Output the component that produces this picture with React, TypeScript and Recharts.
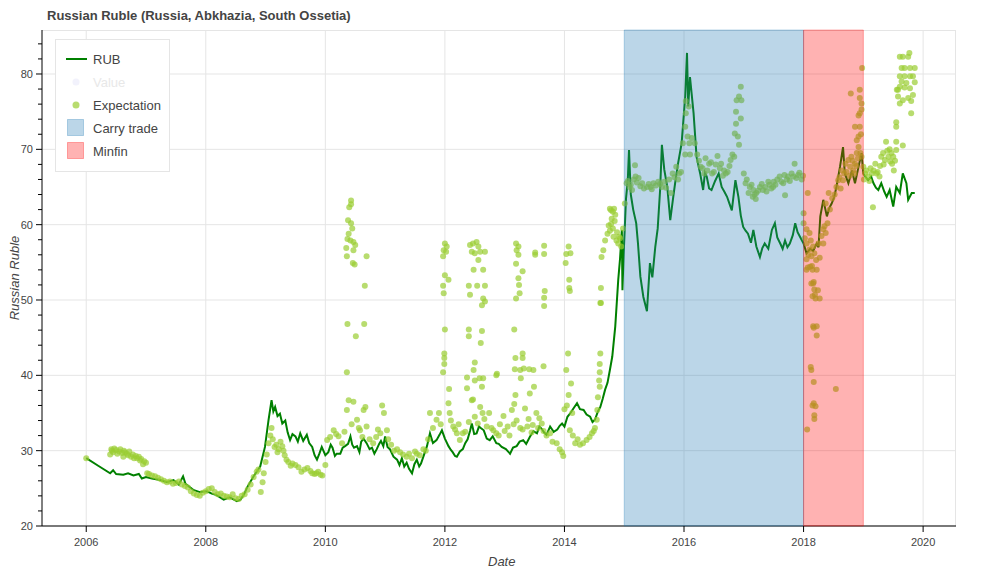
import React from "react";
import {
  ComposedChart,
  CartesianGrid,
  Line,
  ReferenceArea,
  Scatter,
  XAxis,
  YAxis
} from "recharts";

// decimal year, rate
const rubSeries: [number, number][] = [
  [2006.0, 29.0], [2006.2, 28.0], [2006.4, 27.0], [2006.45, 27.4], [2006.5, 26.9], [2006.62, 26.8],
  [2006.7, 27.0], [2006.79, 26.7], [2006.88, 26.9], [2006.93, 26.3], [2007.0, 26.5], [2007.1, 26.3],
  [2007.24, 26.1], [2007.35, 25.8], [2007.46, 26.1], [2007.55, 25.5], [2007.62, 26.6], [2007.66, 25.6],
  [2007.79, 24.8], [2007.9, 24.5], [2008.02, 24.6], [2008.1, 24.3], [2008.18, 24.1], [2008.3, 23.5],
  [2008.4, 23.8], [2008.52, 23.3], [2008.58, 23.5], [2008.64, 24.2], [2008.69, 25.1], [2008.8, 26.6],
  [2008.91, 27.9], [2008.99, 30.5], [2009.05, 34.1], [2009.1, 36.7], [2009.13, 35.2], [2009.16, 35.8],
  [2009.2, 34.6], [2009.24, 34.9], [2009.28, 33.6], [2009.33, 34.0], [2009.37, 32.4], [2009.41, 31.4],
  [2009.45, 32.2], [2009.5, 31.9], [2009.54, 31.2], [2009.58, 32.3], [2009.63, 31.3], [2009.69, 32.1],
  [2009.73, 31.0], [2009.78, 30.5], [2009.82, 29.4], [2009.86, 28.8], [2009.9, 29.6], [2009.94, 30.5],
  [2010.0, 29.4], [2010.05, 29.8], [2010.09, 30.8], [2010.12, 30.4], [2010.16, 29.3], [2010.19, 29.6],
  [2010.25, 29.6], [2010.29, 30.4], [2010.33, 30.6], [2010.38, 30.9], [2010.42, 31.9], [2010.45, 30.8],
  [2010.48, 30.4], [2010.53, 30.6], [2010.57, 29.8], [2010.6, 31.2], [2010.64, 31.6], [2010.69, 31.0],
  [2010.74, 30.2], [2010.78, 30.4], [2010.82, 29.6], [2010.86, 30.2], [2010.9, 30.9], [2010.93, 31.3],
  [2010.97, 30.6], [2011.0, 31.9], [2011.04, 30.5], [2011.08, 30.2], [2011.14, 29.2], [2011.2, 28.8],
  [2011.24, 28.1], [2011.28, 29.0], [2011.32, 27.9], [2011.36, 28.4], [2011.4, 27.6], [2011.45, 27.0],
  [2011.49, 28.2], [2011.53, 28.8], [2011.57, 27.9], [2011.6, 28.3], [2011.64, 29.2], [2011.7, 30.6],
  [2011.75, 32.3], [2011.8, 31.0], [2011.86, 31.4], [2011.91, 32.1], [2011.95, 32.7], [2012.0, 31.6],
  [2012.06, 30.6], [2012.1, 30.1], [2012.13, 29.8], [2012.17, 29.3], [2012.2, 29.2], [2012.25, 29.9],
  [2012.3, 30.2], [2012.34, 31.0], [2012.38, 31.5], [2012.42, 32.6], [2012.45, 33.6], [2012.49, 32.2],
  [2012.53, 32.3], [2012.57, 33.2], [2012.6, 33.0], [2012.65, 32.7], [2012.7, 31.6], [2012.75, 31.4],
  [2012.8, 31.9], [2012.86, 31.0], [2012.9, 30.9], [2012.95, 30.5], [2013.02, 30.2], [2013.09, 29.6],
  [2013.14, 30.4], [2013.2, 30.6], [2013.25, 31.2], [2013.31, 31.4], [2013.36, 30.9], [2013.42, 31.8],
  [2013.48, 32.6], [2013.54, 32.3], [2013.58, 33.2], [2013.62, 32.9], [2013.66, 32.4], [2013.7, 32.1],
  [2013.76, 33.2], [2013.82, 32.5], [2013.88, 32.8], [2013.92, 33.3], [2013.96, 33.6], [2014.0, 33.2],
  [2014.05, 34.5], [2014.1, 35.0], [2014.15, 35.6], [2014.21, 36.3], [2014.26, 35.5], [2014.32, 35.4],
  [2014.37, 34.8], [2014.43, 34.5], [2014.47, 33.8], [2014.51, 34.1], [2014.56, 35.2], [2014.6, 35.8],
  [2014.64, 36.9], [2014.68, 38.1], [2014.72, 39.0], [2014.76, 40.7], [2014.8, 42.5], [2014.85, 46.5],
  [2014.9, 52.7], [2014.93, 55.5], [2014.96, 59.3], [2014.97, 51.3], [2014.99, 56.0], [2015.03, 63.5],
  [2015.06, 66.0], [2015.08, 69.9], [2015.11, 64.0], [2015.15, 62.0], [2015.2, 60.2], [2015.23, 57.5],
  [2015.27, 53.1], [2015.32, 50.4], [2015.38, 48.5], [2015.43, 54.9], [2015.47, 53.0], [2015.52, 57.1],
  [2015.56, 59.5], [2015.6, 64.6], [2015.63, 70.6], [2015.67, 67.3], [2015.72, 65.0], [2015.77, 60.6],
  [2015.82, 63.7], [2015.86, 66.0], [2015.9, 68.1], [2015.96, 70.8], [2016.02, 77.0], [2016.05, 82.8],
  [2016.07, 75.7], [2016.1, 79.6], [2016.16, 74.8], [2016.21, 69.0], [2016.27, 66.8], [2016.32, 64.6],
  [2016.35, 66.9], [2016.38, 66.4], [2016.42, 64.8], [2016.46, 64.6], [2016.52, 65.8], [2016.58, 66.8],
  [2016.63, 65.0], [2016.68, 64.3], [2016.72, 63.7], [2016.76, 62.8], [2016.8, 61.9], [2016.86, 65.9],
  [2016.91, 63.7], [2016.95, 61.2], [2016.99, 59.7], [2017.03, 59.2], [2017.07, 58.8], [2017.12, 57.6],
  [2017.16, 59.3], [2017.21, 57.1], [2017.27, 55.7], [2017.31, 56.9], [2017.35, 57.5], [2017.41, 56.8],
  [2017.47, 59.3], [2017.52, 60.2], [2017.56, 58.3], [2017.61, 57.5], [2017.65, 56.8], [2017.69, 57.9],
  [2017.73, 57.0], [2017.77, 57.5], [2017.82, 58.6], [2017.86, 60.2], [2017.9, 59.0], [2017.94, 58.4],
  [2018.0, 57.5], [2018.05, 56.2], [2018.11, 56.8], [2018.16, 56.5], [2018.22, 57.5], [2018.25, 57.0],
  [2018.28, 61.1], [2018.33, 63.3], [2018.39, 61.1], [2018.43, 62.2], [2018.47, 62.8], [2018.51, 63.6],
  [2018.55, 65.0], [2018.61, 67.7], [2018.66, 70.3], [2018.69, 66.8], [2018.75, 65.5], [2018.81, 67.2],
  [2018.86, 65.5], [2018.92, 67.7], [2018.97, 69.5], [2019.0, 66.8], [2019.04, 66.3], [2019.08, 65.9],
  [2019.13, 66.4], [2019.17, 65.5], [2019.21, 64.9], [2019.25, 64.6], [2019.3, 65.5], [2019.35, 64.4],
  [2019.39, 63.7], [2019.44, 64.6], [2019.5, 62.4], [2019.55, 65.0], [2019.61, 64.2], [2019.66, 66.8],
  [2019.72, 65.5], [2019.75, 63.3], [2019.81, 64.2], [2019.86, 64.2]
];

const expectationPoints: [number, number][] = [
  // 2006 - 2010
  [2006.0, 29.0], [2006.4, 29.5], [2006.42, 30.2], [2006.45, 29.8], [2006.5, 30.1], [2006.55, 29.9],
  [2006.6, 29.7], [2006.62, 29.2], [2006.65, 29.8], [2006.7, 29.4], [2006.75, 29.2], [2006.8, 29.0],
  [2006.85, 29.0], [2006.9, 28.7], [2006.95, 28.2], [2007.0, 28.4], [2007.02, 27.0], [2007.1, 26.7],
  [2007.2, 26.4], [2007.3, 26.0], [2007.4, 25.9], [2007.5, 25.7], [2007.6, 25.5], [2007.7, 25.1],
  [2007.8, 24.3], [2007.9, 24.0], [2008.0, 24.6], [2008.1, 25.0], [2008.2, 24.2], [2008.3, 24.0],
  [2008.4, 23.8], [2008.5, 23.7], [2008.6, 24.0], [2008.7, 24.8], [2008.8, 26.5], [2008.88, 27.5],
  [2008.92, 24.5], [2008.95, 25.8], [2009.0, 28.5], [2009.05, 31.0], [2009.1, 33.0], [2009.15, 30.5],
  [2009.2, 29.8], [2009.25, 31.2], [2009.3, 30.0], [2009.35, 28.8], [2009.42, 28.0], [2009.5, 28.1],
  [2009.6, 27.2], [2009.7, 27.7], [2009.78, 27.0], [2009.85, 27.0], [2009.92, 26.8], [2010.0, 28.1],
  [2006.43, 30.0], [2006.47, 30.3], [2006.52, 29.6], [2006.57, 30.2], [2006.63, 30.0], [2006.68, 29.6],
  [2006.72, 29.9], [2006.78, 29.5], [2006.83, 29.3], [2006.88, 29.2], [2006.92, 28.9], [2006.97, 28.6],
  [2007.05, 26.9], [2007.15, 26.6], [2007.25, 26.2], [2007.35, 25.8], [2007.45, 25.6], [2007.55, 25.9],
  [2007.65, 25.3], [2007.75, 24.6], [2007.85, 24.1], [2007.95, 24.4], [2008.05, 24.9], [2008.15, 24.5],
  [2008.25, 24.3], [2008.35, 23.9], [2008.45, 24.2], [2008.55, 23.6], [2008.65, 24.2], [2008.75, 25.5],
  [2008.85, 27.2], [2008.97, 27.0], [2009.02, 29.5], [2009.08, 32.0], [2009.12, 31.5], [2009.18, 30.8],
  [2009.22, 30.2], [2009.28, 30.6], [2009.32, 29.4], [2009.38, 28.5], [2009.45, 28.3], [2009.55, 27.8],
  [2009.65, 27.5], [2009.75, 27.3], [2009.82, 26.9], [2009.88, 27.2], [2009.95, 26.7],
  // 2010 - 2012
  [2010.03, 31.4], [2010.14, 32.7], [2010.22, 31.9], [2010.36, 35.4], [2010.39, 36.7], [2010.47, 36.5],
  [2010.53, 34.1], [2010.58, 32.7], [2010.64, 35.4], [2010.67, 35.8], [2010.69, 33.2], [2010.8, 31.0],
  [2010.92, 32.3], [2010.95, 36.0], [2010.98, 35.0], [2011.03, 32.7], [2011.2, 30.2], [2011.36, 29.2],
  [2011.53, 29.6], [2011.64, 30.2], [2011.75, 35.0], [2011.86, 34.1], [2011.9, 35.0], [2012.06, 36.3],
  [2012.08, 35.0], [2012.14, 33.2], [2012.2, 32.3], [2012.25, 31.4], [2012.3, 32.3], [2012.45, 36.7],
  [2012.59, 35.8], [2012.63, 35.0], [2012.7, 33.2], [2012.74, 35.0], [2012.81, 32.7], [2012.86, 32.3],
  [2010.08, 31.8], [2010.18, 32.2], [2010.28, 31.0], [2010.32, 32.5], [2010.44, 33.5], [2010.56, 33.0],
  [2010.62, 31.8], [2010.74, 31.5], [2010.85, 31.8], [2010.88, 32.8], [2011.05, 31.5], [2011.1, 30.8],
  [2011.15, 30.0], [2011.25, 29.8], [2011.3, 29.5], [2011.4, 29.6], [2011.45, 29.0], [2011.5, 29.9],
  [2011.58, 29.4], [2011.68, 30.0], [2011.72, 31.5], [2011.8, 33.0], [2011.93, 33.5], [2012.1, 34.0],
  [2012.17, 32.8], [2012.23, 33.5], [2012.34, 32.5], [2012.4, 33.8], [2012.5, 34.5], [2012.55, 33.6],
  [2012.66, 34.2], [2012.78, 33.0], [2012.9, 32.0], [2013.0, 32.6], [2013.08, 32.0], [2013.15, 33.5],
  [2013.3, 32.8], [2013.38, 33.2], [2013.45, 32.4], [2013.56, 33.0], [2013.65, 32.6],
  [2010.43, 63.2], [2010.43, 62.7], [2010.4, 62.3], [2010.38, 60.6], [2010.43, 60.2], [2010.45, 59.5],
  [2010.39, 58.8], [2010.37, 58.1], [2010.42, 57.9], [2010.47, 57.7], [2010.5, 57.3], [2010.35, 56.9],
  [2010.47, 56.6], [2010.36, 55.8], [2010.69, 55.8], [2010.46, 54.9], [2010.49, 54.7], [2010.66, 51.9],
  [2010.37, 46.8], [2010.65, 46.8], [2010.51, 45.2], [2010.36, 40.4],
  // 2012 spikes
  [2012.0, 57.5], [2012.03, 57.1], [2011.98, 56.6], [2011.97, 55.8], [2012.02, 56.4], [2012.0, 53.3],
  [2012.06, 52.7], [2011.97, 51.9], [2011.98, 50.9], [2012.0, 46.1], [2011.99, 42.9], [2011.99, 42.3],
  [2011.99, 41.5], [2011.97, 40.4], [2012.07, 38.2],
  [2012.42, 57.3], [2012.47, 57.5], [2012.53, 57.7], [2012.56, 57.1], [2012.45, 56.4], [2012.5, 56.2],
  [2012.59, 56.4], [2012.67, 56.4], [2012.56, 55.3], [2012.48, 54.0], [2012.64, 54.0], [2012.4, 51.9],
  [2012.54, 51.9], [2012.67, 51.9], [2012.42, 50.7], [2012.64, 50.2], [2012.67, 49.8], [2012.62, 49.3],
  [2012.4, 46.1], [2012.4, 45.2], [2012.62, 45.9], [2012.6, 44.3], [2012.5, 41.7], [2012.48, 40.7],
  [2012.5, 39.3], [2012.58, 39.6], [2012.64, 39.6], [2012.62, 38.5], [2012.37, 39.7], [2012.37, 38.3],
  [2012.47, 36.8], [2012.86, 40.0],
  // 2013
  [2013.19, 57.5], [2013.23, 57.1], [2013.2, 56.6], [2013.23, 56.0], [2013.19, 54.8], [2013.3, 53.8],
  [2013.23, 52.9], [2013.24, 52.0], [2013.25, 50.9], [2013.19, 50.2], [2013.16, 46.1], [2013.18, 42.3],
  [2013.3, 42.9], [2013.3, 42.3], [2013.17, 40.8], [2013.26, 40.7], [2013.32, 40.9], [2013.41, 40.8],
  [2013.27, 39.6], [2013.48, 40.7], [2012.87, 40.2], [2013.51, 56.0], [2013.51, 56.3], [2013.66, 57.2],
  [2013.66, 56.1], [2013.67, 51.2], [2013.66, 50.3], [2013.66, 49.2], [2013.65, 41.2], [2013.49, 38.5],
  [2013.42, 37.6], [2013.18, 37.4], [2013.16, 36.2],
  [2012.92, 33.5], [2012.98, 34.6], [2013.05, 33.2], [2013.12, 35.4], [2013.2, 34.0], [2013.26, 33.0],
  [2013.34, 35.6], [2013.4, 34.2], [2013.47, 33.4], [2013.53, 35.0], [2013.58, 34.3], [2013.62, 33.6],
  [2013.7, 32.0], [2013.76, 32.3], [2013.8, 31.2], [2013.87, 31.0], [2013.92, 30.2], [2013.96, 29.8],
  [2013.98, 29.3],
  // 2014
  [2014.07, 57.1], [2014.03, 56.1], [2014.1, 56.2], [2014.02, 54.9], [2014.08, 52.7], [2014.08, 51.6],
  [2014.09, 51.2], [2014.06, 42.9], [2014.03, 40.7], [2014.11, 38.9], [2014.07, 37.4], [2014.04, 36.0],
  [2014.0, 35.5], [2014.13, 35.0], [2014.09, 32.7], [2014.18, 31.0], [2014.26, 30.8], [2014.37, 31.4],
  [2014.46, 32.3], [2014.51, 33.0], [2014.54, 34.1], [2014.55, 35.4], [2014.14, 32.0], [2014.22, 31.5],
  [2014.31, 31.0], [2014.42, 31.8], [2014.49, 32.6],
  [2014.62, 55.7], [2014.65, 56.6], [2014.68, 57.9], [2014.72, 58.8], [2014.74, 59.9], [2014.78, 60.1],
  [2014.76, 59.2], [2014.81, 59.5], [2014.82, 58.4], [2014.87, 57.9], [2014.78, 61.9], [2014.81, 61.7],
  [2014.85, 61.3], [2014.76, 62.1], [2014.83, 62.1], [2014.91, 58.4], [2014.95, 57.1], [2014.61, 51.6],
  [2014.61, 49.6], [2014.6, 49.6], [2014.6, 42.9], [2014.59, 41.5], [2014.59, 40.4], [2014.58, 39.3],
  [2014.59, 38.5], [2014.56, 37.1], [2014.79, 60.8], [2014.84, 60.5], [2014.88, 59.0], [2014.9, 57.5],
  [2014.93, 58.2], [2014.98, 59.5],
  // 2015 - 2018
  [2015.01, 62.8], [2015.04, 65.5], [2015.09, 65.0], [2015.13, 64.6], [2015.18, 67.9], [2015.19, 66.4],
  [2015.24, 66.2], [2015.3, 65.5], [2015.38, 65.0], [2015.44, 65.0], [2015.49, 65.5], [2015.57, 65.7],
  [2015.63, 65.0], [2015.67, 65.7], [2015.75, 66.0], [2015.78, 64.2], [2015.81, 66.8], [2015.87, 67.7],
  [2015.92, 66.8], [2015.98, 70.8], [2016.02, 73.0], [2016.03, 74.8], [2016.03, 76.4], [2016.08, 75.7],
  [2016.06, 71.7], [2016.09, 70.8], [2016.1, 69.3], [2016.02, 69.3], [2016.18, 70.8], [2016.22, 69.3],
  [2016.28, 67.7], [2016.34, 66.8], [2016.36, 68.8], [2016.42, 68.1], [2016.47, 66.8], [2016.56, 69.1],
  [2016.62, 68.1], [2016.67, 67.2], [2016.73, 67.0], [2016.78, 68.6], [2016.81, 69.3], [2016.84, 69.0],
  [2016.85, 72.1], [2016.87, 73.4], [2016.87, 75.0], [2016.88, 76.5], [2016.92, 77.0], [2016.95, 78.3],
  [2016.96, 76.5], [2016.95, 74.1], [2016.9, 71.7], [2016.92, 70.6], [2017.0, 66.8], [2017.05, 66.0],
  [2017.1, 65.0], [2017.16, 64.6], [2017.2, 63.4], [2017.27, 65.0], [2017.32, 64.6], [2017.36, 65.0],
  [2017.43, 65.3], [2017.49, 65.0], [2017.5, 65.7], [2017.6, 66.4], [2017.66, 65.5], [2017.69, 63.9],
  [2017.74, 66.4], [2017.72, 66.0], [2017.83, 66.4], [2017.85, 68.1], [2017.88, 66.2], [2017.91, 66.6],
  [2017.15, 63.7], [2017.21, 64.2],
  [2015.06, 65.8], [2015.11, 65.3], [2015.16, 66.0], [2015.21, 65.6], [2015.27, 65.1], [2015.33, 64.8],
  [2015.41, 65.4], [2015.46, 64.7], [2015.53, 65.2], [2015.6, 65.4], [2015.7, 64.9], [2015.84, 66.3],
  [2015.9, 66.0], [2015.95, 67.0], [2016.13, 71.5], [2016.25, 68.5], [2016.31, 67.5], [2016.39, 67.2],
  [2016.45, 68.3], [2016.5, 67.0], [2016.53, 68.0], [2016.6, 67.5], [2016.65, 66.5], [2016.7, 66.8],
  [2016.76, 67.8], [2017.03, 65.5], [2017.08, 64.2], [2017.13, 65.3], [2017.18, 64.0], [2017.24, 64.5],
  [2017.3, 65.4], [2017.38, 64.4], [2017.41, 65.7], [2017.46, 64.8], [2017.53, 65.3], [2017.56, 66.0],
  [2017.63, 65.7], [2017.68, 66.6], [2017.77, 65.8], [2017.8, 66.8], [2017.93, 66.9], [2017.97, 66.0],
  [2017.99, 66.5],
  // 2018 - 2020
  [2018.0, 61.5], [2018.0, 60.2], [2018.07, 64.2], [2018.05, 59.4], [2018.1, 58.9], [2018.05, 57.5],
  [2018.12, 57.9], [2018.1, 56.7], [2018.16, 57.1], [2018.05, 55.4], [2018.07, 54.3], [2018.14, 54.5],
  [2018.22, 54.0], [2018.27, 55.6], [2018.16, 52.2], [2018.19, 50.7], [2018.24, 51.3], [2018.27, 50.2],
  [2018.22, 46.5], [2018.33, 59.4], [2018.35, 59.8], [2018.37, 58.9], [2018.4, 60.2], [2018.33, 57.5],
  [2018.25, 57.5], [2018.37, 62.8], [2018.42, 64.2], [2018.55, 65.0], [2018.58, 65.9], [2018.64, 67.2],
  [2018.66, 65.9], [2018.7, 68.1], [2018.75, 68.6], [2018.78, 67.7], [2018.8, 69.0], [2018.83, 67.2],
  [2018.86, 68.1], [2018.89, 69.5], [2018.92, 70.3], [2018.89, 71.2], [2018.92, 71.7], [2018.86, 73.0],
  [2018.94, 73.0], [2018.92, 74.5], [2018.94, 74.8], [2018.97, 76.1], [2018.94, 76.8], [2018.97, 75.3],
  [2018.79, 77.4], [2018.94, 77.9], [2018.98, 80.8], [2018.97, 69.0], [2019.0, 67.7], [2019.03, 66.8],
  [2019.08, 66.4], [2019.14, 66.8], [2019.17, 67.2], [2019.2, 68.1], [2019.24, 67.0], [2019.27, 66.4],
  [2019.16, 62.3], [2019.3, 69.0], [2019.33, 69.5], [2019.36, 68.6], [2019.38, 71.0], [2019.42, 69.0],
  [2019.45, 68.4], [2019.48, 68.1], [2019.51, 67.2], [2019.5, 69.0], [2019.55, 69.9], [2019.55, 71.0],
  [2019.66, 70.5], [2019.55, 73.0], [2019.55, 73.6], [2019.56, 77.9], [2019.58, 77.0], [2019.61, 82.3],
  [2019.66, 82.3], [2019.75, 82.3], [2019.77, 82.8], [2019.64, 80.8], [2019.69, 80.8], [2019.78, 80.8],
  [2019.86, 80.8], [2019.61, 79.7], [2019.69, 79.7], [2019.78, 79.7], [2019.83, 79.7], [2019.64, 79.0],
  [2019.72, 78.8], [2019.86, 78.9], [2019.61, 78.3], [2019.69, 78.2], [2019.78, 78.1], [2019.58, 77.9],
  [2019.83, 77.2], [2019.66, 76.5], [2019.75, 76.8], [2019.8, 76.4], [2019.61, 76.1], [2019.8, 74.8],
  [2018.05, 54.0], [2018.11, 54.4], [2018.15, 54.0], [2018.13, 52.2], [2018.17, 52.4], [2018.18, 51.4],
  [2018.15, 50.5], [2018.2, 50.2], [2018.16, 46.5], [2018.17, 46.3], [2018.22, 45.3], [2018.12, 41.1],
  [2018.13, 40.7], [2018.17, 39.1], [2018.54, 38.2], [2018.17, 36.3], [2018.15, 36.0], [2018.2, 35.9],
  [2018.18, 34.7], [2018.18, 34.2], [2018.06, 32.8],
  [2018.02, 58.2], [2018.08, 56.0], [2018.13, 55.8], [2018.18, 56.2], [2018.21, 55.3], [2018.3, 58.5],
  [2018.44, 62.0], [2018.48, 63.5], [2018.52, 64.0], [2018.6, 66.3], [2018.62, 64.8], [2018.68, 66.8],
  [2018.72, 67.0], [2018.77, 66.5], [2018.82, 68.5], [2018.85, 66.8], [2018.88, 67.8], [2018.91, 68.8],
  [2018.95, 69.5], [2018.96, 72.0], [2019.01, 66.0], [2019.05, 67.2], [2019.1, 65.8], [2019.12, 67.5],
  [2019.22, 66.8], [2019.28, 67.8], [2019.34, 68.0], [2019.4, 69.8], [2019.44, 70.0], [2019.47, 69.5],
  [2019.53, 68.5]
];

const xDomain = [2005.26, 2020.55];
const yDomain = [20, 85.84];
const xTicks = [2006, 2008, 2010, 2012, 2014, 2016, 2018, 2020];
const yMajor = [20, 30, 40, 50, 60, 70, 80];
const yTicks = [20, 22, 24, 26, 28, 30, 32, 34, 36, 38, 40, 42, 44, 46, 48, 50, 52, 54, 56, 58, 60, 62, 64, 66, 68, 70, 72, 74, 76, 78, 80, 82, 84];

const carryTrade = [2015, 2018];
const minfin = [2018, 2019];

const rubData = rubSeries.map(([x, y]) => ({ x, y }));
const expData = expectationPoints.map(([x, y]) => ({ x, y }));

const font = '"Liberation Sans", Helvetica, Arial, sans-serif';
const textColor = "#444444";

function YTick(props: any) {
  const { x, y, payload } = props;
  const major = payload.value % 10 === 0;
  return (
    <g>
      <line x1={x} x2={x - (major ? 6 : 4)} y1={y} y2={y} stroke="#000" />
      {major ? (
        <text x={x - 9} y={y} dy={4} textAnchor="end" fontSize={11} fill={textColor} fontFamily={font}>
          {payload.value}
        </text>
      ) : null}
    </g>
  );
}

function XTick(props: any) {
  const { x, y, payload } = props;
  return (
    <g>
      <line x1={x} x2={x} y1={y} y2={y + 6} stroke="#000" />
      <text x={x} y={y + 20} textAnchor="middle" fontSize={11} fill={textColor} fontFamily={font}>
        {payload.value}
      </text>
    </g>
  );
}

function Dot(props: any) {
  const { cx, cy } = props;
  return <circle cx={cx} cy={cy} r={3} fill="#9acd32" fillOpacity={0.7} />;
}

// grid only at the major ticks
function gridRows({ offset }: any) {
  return yMajor.map((v) => offset.top + offset.height * (1 - (v - yDomain[0]) / (yDomain[1] - yDomain[0])));
}
function gridCols({ offset }: any) {
  return xTicks.map((v) => offset.left + (offset.width * (v - xDomain[0])) / (xDomain[1] - xDomain[0]));
}

const legendItems = [
  { label: "RUB", kind: "line", color: "green" },
  { label: "Value", kind: "dot", color: "#e6e6fa" },
  { label: "Expectation", kind: "dot", color: "#9acd32" },
  { label: "Carry trade", kind: "box", color: "#1f77b4" },
  { label: "Minfin", kind: "box", color: "#ff0000" }
];

function Legend() {
  return (
    <div
      style={{
        position: "absolute",
        left: 55,
        top: 39,
        width: 113,
        height: 131,
        border: "1px solid #e5e5e5",
        background: "#fff",
        fontFamily: font,
        fontSize: 13
      }}
    >
      {legendItems.map((item, i) => (
        <div key={item.label} style={{ position: "absolute", left: 10, top: 9 + i * 23, height: 20, display: "flex", alignItems: "center" }}>
          <svg width={22} height={20} style={{ display: "block" }}>
            {item.kind === "line" ? <line x1={0} x2={21} y1={10} y2={10} stroke={item.color} strokeWidth={2} /> : null}
            {item.kind === "dot" ? (
              <circle cx={10} cy={10} r={3.5} fill={item.color} fillOpacity={item.label === "Value" ? 0.5 : 0.7} />
            ) : null}
            {item.kind === "box" ? (
              <rect x={1.5} y={1.5} width={16} height={16} fill={item.color} fillOpacity={0.3} stroke={item.color} strokeOpacity={0.3} />
            ) : null}
          </svg>
          <span style={{ marginLeft: 5, color: item.label === "Value" ? "#e8e8e8" : textColor, whiteSpace: "nowrap" }}>{item.label}</span>
        </div>
      ))}
    </div>
  );
}

export default function App() {
  return (
    <div style={{ position: "absolute", left: 0, top: 0, width: 986, height: 570, background: "#fff", fontFamily: font }}>
      <div
        style={{
          position: "absolute",
          left: 42,
          top: 30,
          width: 913,
          height: 495,
          border: "1px solid #e5e5e5",
          borderLeft: "none",
          borderBottom: "none"
        }}
      />
      <div style={{ position: "absolute", left: 47, top: 8, fontSize: 13, fontWeight: "bold", color: textColor, whiteSpace: "nowrap" }}>
        Russian Ruble (Russia, Abkhazia, South Ossetia)
      </div>
      <div style={{ position: "absolute", left: 0, top: 0 }}>
        <ComposedChart width={986} height={570} margin={{ top: 30, right: 30, bottom: 0, left: 0 }}>
          <CartesianGrid stroke="#e5e5e5" horizontalCoordinatesGenerator={gridRows} verticalCoordinatesGenerator={gridCols} />
          <XAxis
            type="number"
            dataKey="x"
            domain={xDomain}
            allowDataOverflow
            ticks={xTicks}
            interval={0}
            height={44}
            tickSize={0}
            tickMargin={0}
            tick={<XTick />}
            axisLine={{ stroke: "#000" }}
            tickLine={false}
          />
          <YAxis
            type="number"
            dataKey="y"
            domain={yDomain}
            allowDataOverflow
            ticks={yTicks}
            interval={0}
            width={42}
            tickSize={0}
            tickMargin={0}
            tick={<YTick />}
            axisLine={{ stroke: "#000" }}
            tickLine={false}
          />
          <Line
            data={rubData}
            dataKey="y"
            type="linear"
            stroke="green"
            strokeWidth={2}
            dot={false}
            isAnimationActive={false}
          />
          <Scatter data={expData} dataKey="y" shape={<Dot />} isAnimationActive={false} />
          <ReferenceArea
            x1={carryTrade[0]}
            x2={carryTrade[1]}
            fill="#1f77b4"
            fillOpacity={0.3}
            stroke="#1f77b4"
            strokeOpacity={0.3}
            zIndex={1000}
          />
          <ReferenceArea
            x1={minfin[0]}
            x2={minfin[1]}
            fill="#ff0000"
            fillOpacity={0.3}
            stroke="#ff0000"
            strokeOpacity={0.3}
            zIndex={1000}
          />
        </ComposedChart>
      </div>
      <Legend />
      <span style={{ position: "absolute", left: 488, top: 554, fontSize: 13, fontStyle: "italic", color: textColor }}>Date</span>
      <div
        style={{
          position: "absolute",
          left: 14,
          top: 278,
          transform: "translate(-50%, -50%) rotate(-90deg)",
          fontSize: 13,
          fontStyle: "italic",
          color: textColor,
          whiteSpace: "nowrap"
        }}
      >
        Russian Ruble
      </div>
    </div>
  );
}
